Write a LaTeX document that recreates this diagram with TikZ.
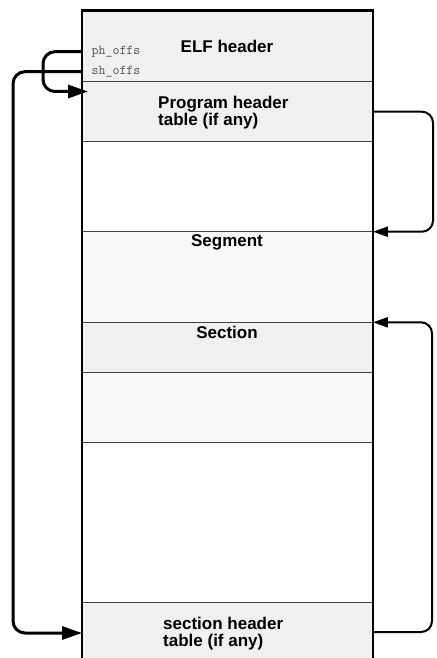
\documentclass[tikz,border=0pt]{standalone}
\usepackage{fontspec}
\setmainfont{Liberation Sans}
\usetikzlibrary{arrows.meta}
\definecolor{gA}{HTML}{F0F0F0}
\definecolor{gB}{HTML}{F8F8F8}
\definecolor{divc}{HTML}{404040}
\definecolor{labc}{HTML}{505050}
\tikzset{
  region/.style={anchor=north west, inner sep=0pt, minimum width=290.5pt, draw=none},
  title/.style={font=\fontsize{17}{17}\selectfont\bfseries, inner sep=0pt},
  ttitle/.style={font=\fontsize{17}{17}\selectfont\bfseries, inner sep=0pt, align=left, anchor=west},
  offs/.style={font=\fontsize{13.5}{14}\selectfont\ttfamily, text=labc, inner sep=0pt, anchor=west},
  divider/.style={draw=divc, line width=1.2pt},
  leftarr/.style={line width=3pt, rounded corners=12pt, -{Triangle[length=20pt,width=13pt]}},
  rightarr/.style={line width=2pt, rounded corners=11pt, -{Triangle[length=15pt,width=10pt]}}
}
\begin{document}
\begin{tikzpicture}[x=1pt,y=-1pt]
\useasboundingbox (0,0) rectangle (436,658);
% regions
\node[region, fill=gA, minimum height=70.7pt] (elf) at (82,11) {};
\node[region, fill=gA, minimum height=60pt] (prog) at (82,81.7) {};
\node[region, fill=white, minimum height=90pt] (blank1) at (82,141.7) {};
\node[region, fill=gB, minimum height=90.6pt] (seg) at (82,231.7) {};
\node[region, fill=gA, minimum height=50pt] (sect) at (82,322.3) {};
\node[region, fill=gB, minimum height=70.4pt] (sect2) at (82,372.3) {};
\node[region, fill=white, minimum height=160pt] (blank2) at (82,442.7) {};
\node[region, fill=gA, minimum height=70pt] (shdr) at (82,602.7) {};
% dividers
\foreach \n in {prog,blank1,seg,sect,sect2,blank2,shdr}
  \draw[divider] (\n.north west) -- (\n.north east);
% outer border
\draw[line width=2pt] (shdr.south west) -- (elf.north west);
\draw[line width=2pt] (shdr.south east) -- (elf.north east);
\draw[line width=3pt] ([xshift=-1pt]elf.north west) -- ([xshift=1pt]elf.north east);
% texts
\node[title] (elft) at (227,46) {ELF header};
\node[ttitle] (progt) at (158,112.5) {Program header\\table (if any)};
\node[title] (segt) at (227,242) {Segment};
\node[title] (sectt) at (227,332.5) {Section};
\node[ttitle] (shdrt) at (163,634) {section header\\table (if any)};
\node[offs] (ph) at (91.5,52) {ph\_offs};
\node[offs] (sh) at (91.5,72) {sh\_offs};
% connector anchors
\coordinate (phs) at (elf.west |- 0,51.7);
\coordinate (phe) at (88,91.5);
\coordinate (shs) at (elf.west |- 0,71.7);
\coordinate (she) at (shdr.west |- 0,633);
\coordinate (ps) at (prog.east |- 0,111.7);
\coordinate (pe) at (seg.north east);
\coordinate (ss) at (shdr.east |- 0,632);
\coordinate (se) at (sect.north east);
% connectors
\draw[leftarr] (phs) -- (43,51.7) -- (43,91.5) -- (phe);
\draw[leftarr] (shs) -- (13,71.7) -- (13,633) -- (she);
\draw[rightarr] (ps) -- (433,111.7) -- (433,231.7) -- (pe);
\draw[rightarr] (ss) -- (432,632) -- (432,322.3) -- (se);
\end{tikzpicture}
\end{document}
